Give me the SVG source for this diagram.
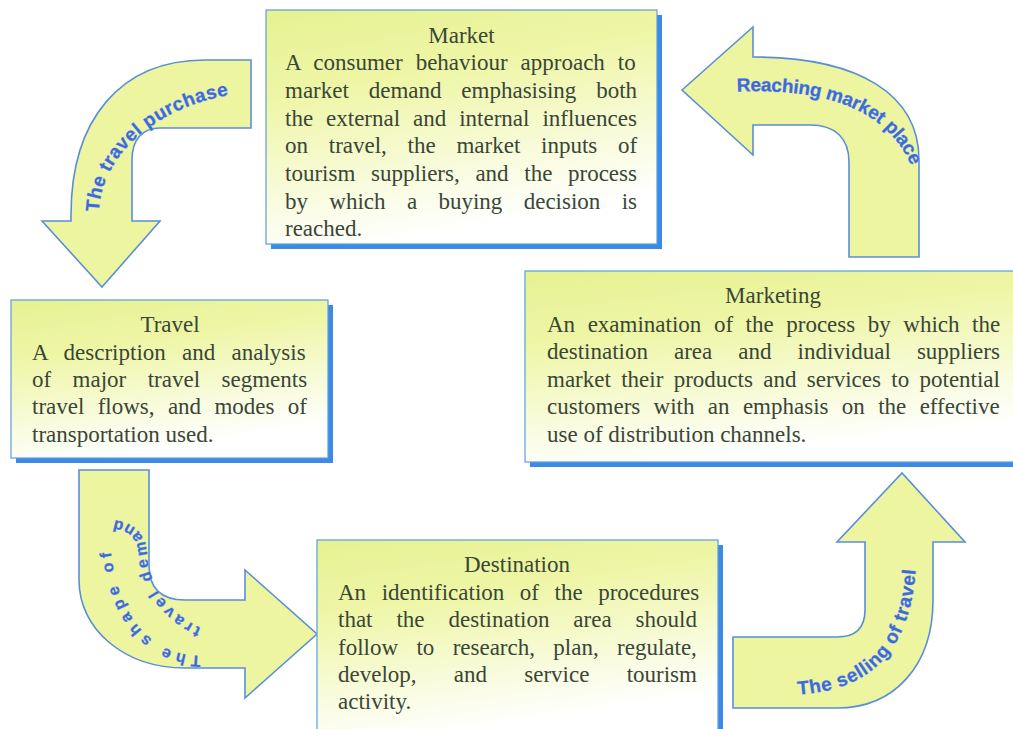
<svg xmlns="http://www.w3.org/2000/svg" width="1013" height="729" viewBox="0 0 1013 729">
<style>
.shadow{fill:#3c8ae6}
.box{fill:url(#boxGrad);stroke:#5e9be0;stroke-width:1.2}
.t{font-family:"Liberation Serif","Times New Roman",serif;font-size:23px;fill:#3a4636}
.ttl{text-anchor:middle}
.arrow{fill:#eef5a0;stroke:#5a8fd8;stroke-width:1.6;stroke-linejoin:miter}
.lbl{font-family:"Liberation Sans",Arial,sans-serif;font-weight:bold;font-size:19px;fill:#3d6bd6;stroke:#a9c0ef;stroke-width:0.7;paint-order:stroke}
.lbl16{font-size:16px}
</style>
<defs>
<linearGradient id="boxGrad" x1="0" y1="0" x2="0.3" y2="1">
<stop offset="0" stop-color="#e6f192"/>
<stop offset="0.35" stop-color="#eef6a6"/>
<stop offset="1" stop-color="#ffffff"/>
</linearGradient>
<path id="p1" d="M 99 215 A 170 123 0 0 1 245 93"/>
<path id="p2" d="M 735 92 C 805 88, 885 100, 912 168"/>
<path id="p3a" d="M 203 656 C 150 656, 109 615, 109 518"/>
<path id="p3b" d="M 203 629 C 172 615, 150 590, 147 555 C 146 535, 136 521, 106 519"/>
<path id="p4" d="M 795 695 C 875 690, 917 650, 917 540"/>
</defs>

<g id="connectors">
<g id="arrow-travel-purchase">
<path class="arrow" d="M 251 60 L 251 128 L 160 128 C 142 128, 132 140, 132 160 L 132 221 L 160 221 L 102 287 L 42 221 L 71 221 L 71 215 C 71 120, 120 60, 205 60 Z"/>
<text class="lbl"><textPath href="#p1" startOffset="3" textLength="188" lengthAdjust="spacing">The travel purchase</textPath></text>
</g>
<g id="arrow-reaching-market">
<path class="arrow" d="M 682 90 L 753 27 L 753 57 C 860 57, 919 95, 919 160 L 919 257 L 849 257 L 849 162 C 849 138, 835 125, 810 125 L 753 125 L 753 155 Z"/>
<text class="lbl"><textPath href="#p2" startOffset="2" textLength="202" lengthAdjust="spacing">Reaching market place</textPath></text>
</g>
<g id="arrow-shape-demand">
<path class="arrow" d="M 79 470 L 149 470 L 149 565 C 149 588, 160 600, 185 600 L 245 600 L 245 570 L 317 634 L 245 698 L 245 668 L 185 668 C 125 668, 79 630, 79 580 Z"/>
<text class="lbl lbl16"><textPath href="#p3a" startOffset="2" textLength="152" lengthAdjust="spacing">The shape of</textPath></text>
<text class="lbl lbl16"><textPath href="#p3b" startOffset="2" textLength="148" lengthAdjust="spacing">travel demand</textPath></text>
</g>
<g id="arrow-selling-travel">
<path class="arrow" d="M 733 637 L 837 637 C 855 637, 865 628, 865 610 L 865 542 L 837 542 L 902 473 L 965 542 L 933 542 L 933 600 C 933 665, 895 708, 837 708 L 733 708 Z"/>
<text class="lbl"><textPath href="#p4" startOffset="3" textLength="192" lengthAdjust="spacing">The selling of travel</textPath></text>
</g>
</g>

<g id="market">
<rect class="shadow" x="271" y="15" width="391" height="234"/>
<rect class="box" x="266" y="10" width="391" height="234"/>
<text class="t ttl" x="461.5" y="43">Market</text>
<text class="t" x="285" y="70" style="word-spacing:7.2px">A consumer behaviour approach to</text>
<text class="t" x="285" y="98" style="word-spacing:14.1px">market demand emphasising both</text>
<text class="t" x="285" y="126" style="word-spacing:7.2px">the external and internal influences</text>
<text class="t" x="285" y="153" style="word-spacing:15px">on travel, the market inputs of</text>
<text class="t" x="285" y="181" style="word-spacing:9.9px">tourism suppliers, and the process</text>
<text class="t" x="285" y="209" style="word-spacing:15.6px">by which a buying decision is</text>
<text class="t" x="285" y="236">reached.</text>
</g>

<g id="travel">
<rect class="shadow" x="16" y="305" width="317" height="158"/>
<rect class="box" x="11" y="300" width="317" height="158"/>
<text class="t ttl" x="170" y="332">Travel</text>
<text class="t" x="32" y="360" style="word-spacing:10.5px">A description and analysis</text>
<text class="t" x="32" y="387" style="word-spacing:15.7px">of major travel segments</text>
<text class="t" x="32" y="414" style="word-spacing:7.6px">travel flows, and modes of</text>
<text class="t" x="32" y="442">transportation used.</text>
</g>

<g id="marketing">
<rect class="shadow" x="530" y="276" width="500" height="191"/>
<rect class="box" x="525" y="271" width="500" height="191"/>
<text class="t ttl" x="773" y="303">Marketing</text>
<text class="t" x="547" y="332" style="word-spacing:6.8px">An examination of the process by which the</text>
<text class="t" x="547" y="359" style="word-spacing:20.3px">destination area and individual suppliers</text>
<text class="t" x="547" y="387" style="word-spacing:4.6px">market their products and services to potential</text>
<text class="t" x="547" y="414" style="word-spacing:7.6px">customers with an emphasis on the effective</text>
<text class="t" x="547" y="442">use of distribution channels.</text>
</g>

<g id="destination">
<rect class="shadow" x="322" y="545" width="401" height="195"/>
<rect class="box" x="317" y="540" width="401" height="195"/>
<text class="t ttl" x="517" y="572">Destination</text>
<text class="t" x="338" y="600" style="word-spacing:9.8px">An identification of the procedures</text>
<text class="t" x="338" y="627" style="word-spacing:18.2px">that the destination area should</text>
<text class="t" x="338" y="655" style="word-spacing:12.6px">follow to research, plan, regulate,</text>
<text class="t" x="338" y="682" style="word-spacing:31.5px">develop, and service tourism</text>
<text class="t" x="338" y="709">activity.</text>
</g>
</svg>
